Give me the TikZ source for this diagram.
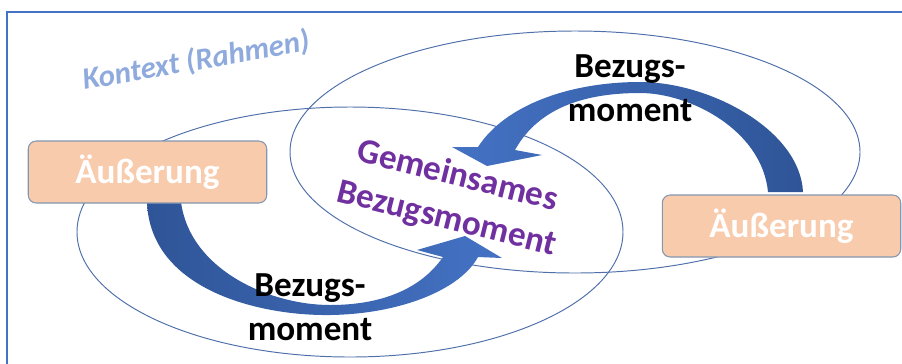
\documentclass[tikz,border=0pt]{standalone}
\usepackage{fontspec}
\setmainfont{Carlito}

\definecolor{framecol}{HTML}{4472C4}
\definecolor{ringcol}{HTML}{4F6FAA}
\definecolor{boxfill}{HTML}{F8CBAD}
\definecolor{boxline}{HTML}{8497B0}
\definecolor{ctxblue}{HTML}{8FAADC}
\definecolor{commonviolet}{HTML}{7030A0}
\definecolor{arrowlight}{HTML}{4472C4}
\definecolor{arrowdark}{HTML}{2F5597}

\begin{document}
\begin{tikzpicture}[
  x=0.02cm,
  y=-0.02cm,
  font=\fontsize{20}{25}\selectfont\bfseries,
  frameline/.style={draw=framecol, line width=0.7pt},
  ctx/.style={draw=ringcol, line width=0.55pt},
  utter/.style={draw=boxline, line width=0.6pt, fill=boxfill,
    rounded corners=4.5pt, text=white, inner sep=0pt,
    minimum width=4.77cm, minimum height=1.24cm},
  refnote/.style={align=center, text=black},
  common/.style={align=center, text=commonviolet, rotate=-14},
  ctxnote/.style={text=ctxblue, rotate=10,
    font=\fontsize{17.5}{21}\selectfont\bfseries\itshape}
]

\useasboundingbox (0,0) rectangle (902,363);
\clip (0,0) rectangle (902,363);

% outer frame, only its top and left edges lie inside
\draw[frameline] (7,380) -- (7,12) -- (920,12);

% the two overlapping contexts
\draw[ctx] (350,232) ellipse [x radius=273, y radius=125];
\draw[ctx] (575,152) ellipse [x radius=285, y radius=121];

% curved arrow, right utterance -> common moment
\shade[left color=arrowlight, right color=arrowdark]
  (803,192) .. controls (800,130) and (710,82) .. (640,82)
  .. controls (570,82) and (505,105) .. (478,147)
  -- (452,147) -- (487,166) -- (542,155) -- (515,150)
  .. controls (540,105) and (590,93) .. (640,93)
  .. controls (690,93) and (762,130) .. (768,192) -- cycle;

% curved arrow, left utterance -> common moment
\shade[left color=arrowdark, right color=arrowlight]
  (147,202) .. controls (150,290) and (260,316) .. (330,315)
  .. controls (400,314) and (460,290) .. (478,257)
  -- (502,258) -- (465,236) -- (417,250) -- (443,257)
  .. controls (420,290) and (380,305) .. (330,305)
  .. controls (270,305) and (190,270) .. (181,202) -- cycle;

\node[utter] (u1) at (147.5,172) {Äußerung};
\node[utter] (u2) at (781.5,226) {Äußerung};

\node[refnote] (ref1) at (630,88) {Bezugs-\\moment};
\node[refnote] (ref2) at (310,307) {Bezugs-\\moment};
\node[common] (mid) at (452,198) {Gemeinsames\\Bezugsmoment};
\node[ctxnote] (ctxlabel) at (196,61) {Kontext (Rahmen)};

\end{tikzpicture}
\end{document}
